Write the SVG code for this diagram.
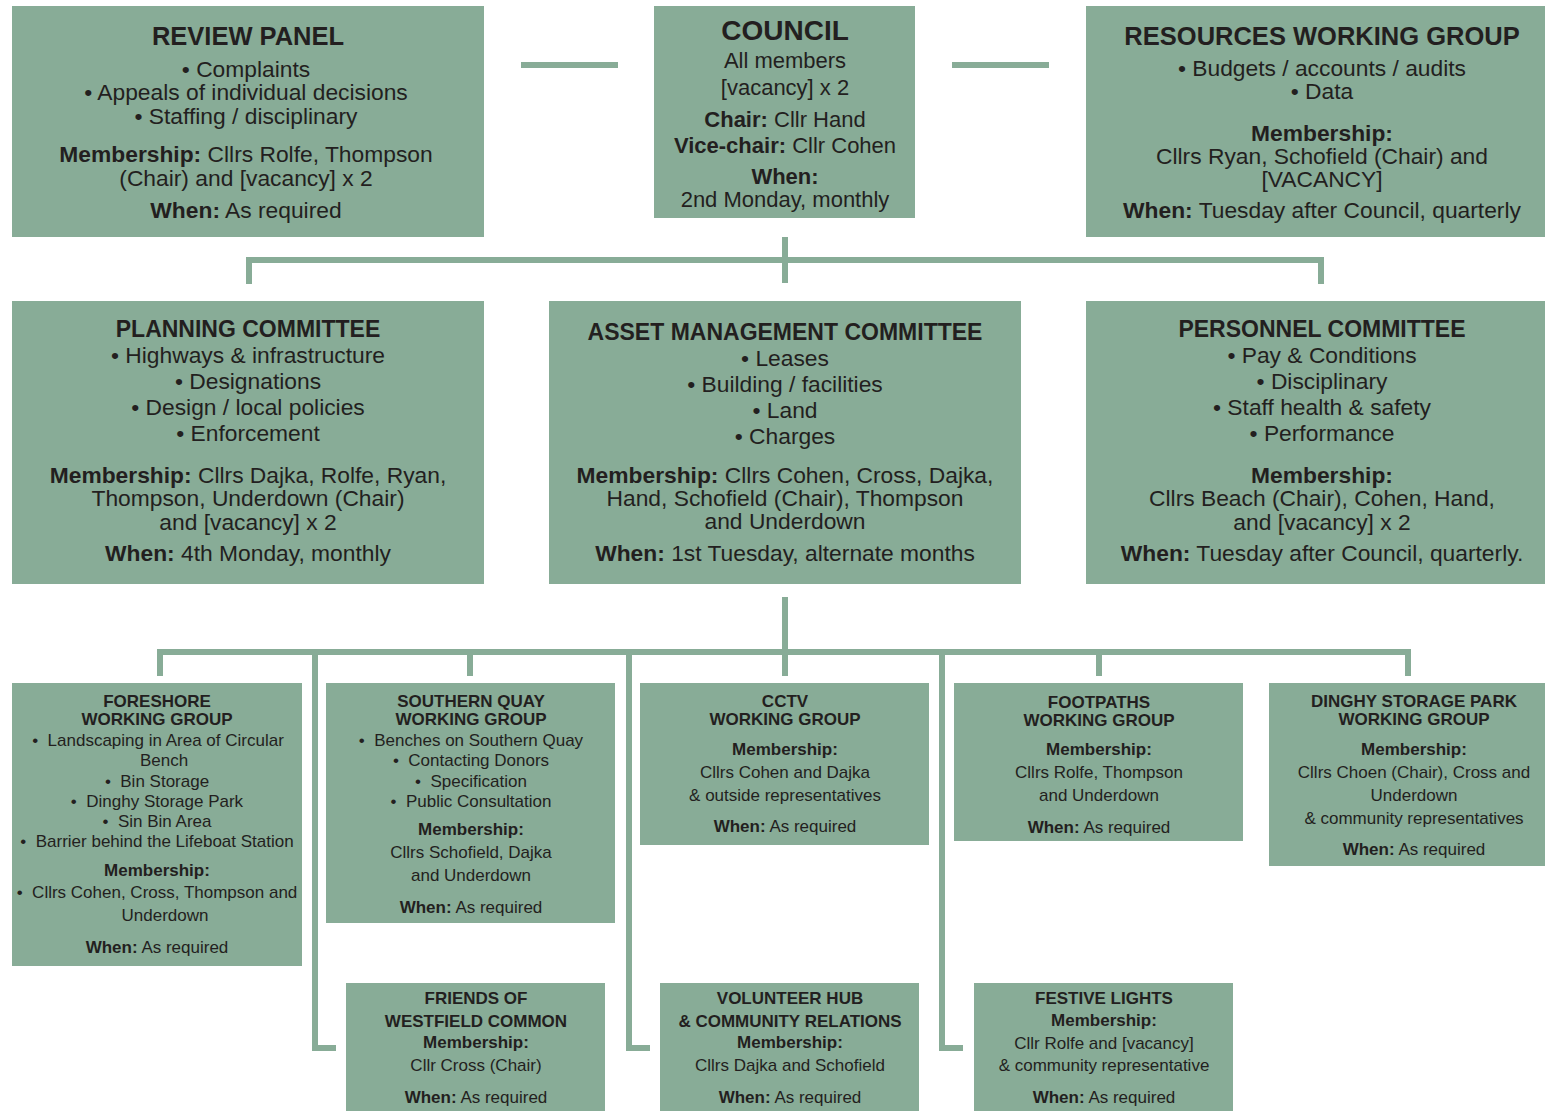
<svg xmlns="http://www.w3.org/2000/svg" width="1545" height="1111" viewBox="0 0 1545 1111">
<style>
.box{fill:#88ac97}
.c{stroke:#88ac97;stroke-width:6;fill:none}
text{font-family:"Liberation Sans",Arial,sans-serif;fill:#231f20;text-anchor:middle}
.h1{font-size:25.5px;font-weight:bold}
.h0{font-size:28px;font-weight:bold}
.h2{font-size:23px;font-weight:bold}
.b1{font-size:22.8px}
.b0{font-size:22px}
.s{font-size:17px}
.sb{font-size:17px;font-weight:bold}
.b{font-weight:bold}
</style>
<rect width="1545" height="1111" fill="#ffffff"/>
<g id="connectors">
<path class="c" d="M521,65 H618"/>
<path class="c" d="M952,65 H1049"/>
<path class="c" d="M785,237 V283"/>
<path class="c" d="M249,284 V260 H1321 V284"/>
<path class="c" d="M785,597 V676"/>
<path class="c" d="M160,676 V652 H1408 V676"/>
<path class="c" d="M470,652 V676"/>
<path class="c" d="M1099,652 V676"/>
<path class="c" d="M315,652 V1048 H336"/>
<path class="c" d="M629,652 V1048 H650"/>
<path class="c" d="M942,652 V1048 H963"/>
</g>
<g id="review-panel">
<rect class="box" x="12" y="6" width="472" height="231"/>
<text class="h1" x="248" y="45">REVIEW PANEL</text>
<text class="b1" x="246" y="77">• Complaints</text>
<text class="b1" x="246" y="100">• Appeals of individual decisions</text>
<text class="b1" x="246" y="124">• Staffing / disciplinary</text>
<text class="b1" x="246" y="162"><tspan class="b">Membership:</tspan> Cllrs Rolfe, Thompson</text>
<text class="b1" x="246" y="186">(Chair) and [vacancy] x 2</text>
<text class="b1" x="246" y="218"><tspan class="b">When:</tspan> As required</text>
</g>
<g id="council">
<rect class="box" x="654" y="6" width="261" height="212"/>
<text class="h0" x="785" y="40">COUNCIL</text>
<text class="b0" x="785" y="68">All members</text>
<text class="b0" x="785" y="95">[vacancy] x 2</text>
<text class="b0" x="785" y="127"><tspan class="b">Chair:</tspan> Cllr Hand</text>
<text class="b0" x="785" y="153"><tspan class="b">Vice-chair:</tspan> Cllr Cohen</text>
<text class="b0 b" x="785" y="184">When:</text>
<text class="b0" x="785" y="207">2nd Monday, monthly</text>
</g>
<g id="resources-working-group">
<rect class="box" x="1086" y="6" width="459" height="231"/>
<text class="h1" x="1322" y="45">RESOURCES WORKING GROUP</text>
<text class="b1" x="1322" y="76">• Budgets / accounts / audits</text>
<text class="b1" x="1322" y="99">• Data</text>
<text class="b1 b" x="1322" y="141">Membership:</text>
<text class="b1" x="1322" y="164">Cllrs Ryan, Schofield (Chair) and</text>
<text class="b1" x="1322" y="187">[VACANCY]</text>
<text class="b1" x="1322" y="218"><tspan class="b">When:</tspan> Tuesday after Council, quarterly</text>
</g>
<g id="planning-committee">
<rect class="box" x="12" y="301" width="472" height="283"/>
<text class="h2" x="248" y="337">PLANNING COMMITTEE</text>
<text class="b1" x="248" y="363">• Highways &amp; infrastructure</text>
<text class="b1" x="248" y="389">• Designations</text>
<text class="b1" x="248" y="415">• Design / local policies</text>
<text class="b1" x="248" y="441">• Enforcement</text>
<text class="b1" x="248" y="483"><tspan class="b">Membership:</tspan> Cllrs Dajka, Rolfe, Ryan,</text>
<text class="b1" x="248" y="506">Thompson, Underdown (Chair)</text>
<text class="b1" x="248" y="530">and [vacancy] x 2</text>
<text class="b1" x="248" y="561"><tspan class="b">When:</tspan> 4th Monday, monthly</text>
</g>
<g id="asset-management-committee">
<rect class="box" x="549" y="301" width="472" height="283"/>
<text class="h2" x="785" y="340">ASSET MANAGEMENT COMMITTEE</text>
<text class="b1" x="785" y="366">• Leases</text>
<text class="b1" x="785" y="392">• Building / facilities</text>
<text class="b1" x="785" y="418">• Land</text>
<text class="b1" x="785" y="444">• Charges</text>
<text class="b1" x="785" y="483"><tspan class="b">Membership:</tspan> Cllrs Cohen, Cross, Dajka,</text>
<text class="b1" x="785" y="506">Hand, Schofield (Chair), Thompson</text>
<text class="b1" x="785" y="529">and Underdown</text>
<text class="b1" x="785" y="561"><tspan class="b">When:</tspan> 1st Tuesday, alternate months</text>
</g>
<g id="personnel-committee">
<rect class="box" x="1086" y="301" width="459" height="283"/>
<text class="h2" x="1322" y="337">PERSONNEL COMMITTEE</text>
<text class="b1" x="1322" y="363">• Pay &amp; Conditions</text>
<text class="b1" x="1322" y="389">• Disciplinary</text>
<text class="b1" x="1322" y="415">• Staff health &amp; safety</text>
<text class="b1" x="1322" y="441">• Performance</text>
<text class="b1 b" x="1322" y="483">Membership:</text>
<text class="b1" x="1322" y="506">Cllrs Beach (Chair), Cohen, Hand,</text>
<text class="b1" x="1322" y="530">and [vacancy] x 2</text>
<text class="b1" x="1322" y="561"><tspan class="b">When:</tspan> Tuesday after Council, quarterly.</text>
</g>
<g id="foreshore-working-group">
<rect class="box" x="12" y="683" width="290" height="283"/>
<text class="sb" x="157" y="707">FORESHORE</text>
<text class="sb" x="157" y="725">WORKING GROUP</text>
<text class="s" x="158" y="746">•&#160;&#160;Landscaping in Area of Circular</text>
<text class="s" x="164" y="766">Bench</text>
<text class="s" x="157" y="787">•&#160;&#160;Bin Storage</text>
<text class="s" x="157" y="807">•&#160;&#160;Dinghy Storage Park</text>
<text class="s" x="157" y="827">•&#160;&#160;Sin Bin Area</text>
<text class="s" x="157" y="847">•&#160;&#160;Barrier behind the Lifeboat Station</text>
<text class="sb" x="157" y="876">Membership:</text>
<text class="s" x="157" y="898">•&#160;&#160;Cllrs Cohen, Cross, Thompson and</text>
<text class="s" x="165" y="921">Underdown</text>
<text class="s" x="157" y="953"><tspan class="b">When:</tspan> As required</text>
</g>
<g id="southern-quay-working-group">
<rect class="box" x="326" y="683" width="289" height="240"/>
<text class="sb" x="471" y="707">SOUTHERN QUAY</text>
<text class="sb" x="471" y="725">WORKING GROUP</text>
<text class="s" x="471" y="746">•&#160;&#160;Benches on Southern Quay</text>
<text class="s" x="471" y="766">•&#160;&#160;Contacting Donors</text>
<text class="s" x="471" y="787">•&#160;&#160;Specification</text>
<text class="s" x="471" y="807">•&#160;&#160;Public Consultation</text>
<text class="sb" x="471" y="835">Membership:</text>
<text class="s" x="471" y="858">Cllrs Schofield, Dajka</text>
<text class="s" x="471" y="881">and Underdown</text>
<text class="s" x="471" y="913"><tspan class="b">When:</tspan> As required</text>
</g>
<g id="cctv-working-group">
<rect class="box" x="640" y="683" width="289" height="162"/>
<text class="sb" x="785" y="707">CCTV</text>
<text class="sb" x="785" y="725">WORKING GROUP</text>
<text class="sb" x="785" y="755">Membership:</text>
<text class="s" x="785" y="778">Cllrs Cohen and Dajka</text>
<text class="s" x="785" y="801">&amp; outside representatives</text>
<text class="s" x="785" y="832"><tspan class="b">When:</tspan> As required</text>
</g>
<g id="footpaths-working-group">
<rect class="box" x="954" y="683" width="289" height="158"/>
<text class="sb" x="1099" y="708">FOOTPATHS</text>
<text class="sb" x="1099" y="726">WORKING GROUP</text>
<text class="sb" x="1099" y="755">Membership:</text>
<text class="s" x="1099" y="778">Cllrs Rolfe, Thompson</text>
<text class="s" x="1099" y="801">and Underdown</text>
<text class="s" x="1099" y="833"><tspan class="b">When:</tspan> As required</text>
</g>
<g id="dinghy-storage-park-working-group">
<rect class="box" x="1269" y="683" width="276" height="183"/>
<text class="sb" x="1414" y="707">DINGHY STORAGE PARK</text>
<text class="sb" x="1414" y="725">WORKING GROUP</text>
<text class="sb" x="1414" y="755">Membership:</text>
<text class="s" x="1414" y="778">Cllrs Choen (Chair), Cross and</text>
<text class="s" x="1414" y="801">Underdown</text>
<text class="s" x="1414" y="824">&amp; community representatives</text>
<text class="s" x="1414" y="855"><tspan class="b">When:</tspan> As required</text>
</g>
<g id="friends-of-westfield-common">
<rect class="box" x="346" y="983" width="259" height="128"/>
<text class="sb" x="476" y="1004">FRIENDS OF</text>
<text class="sb" x="476" y="1027">WESTFIELD COMMON</text>
<text class="sb" x="476" y="1048">Membership:</text>
<text class="s" x="476" y="1071">Cllr Cross (Chair)</text>
<text class="s" x="476" y="1103"><tspan class="b">When:</tspan> As required</text>
</g>
<g id="volunteer-hub">
<rect class="box" x="660" y="983" width="259" height="128"/>
<text class="sb" x="790" y="1004">VOLUNTEER HUB</text>
<text class="sb" x="790" y="1027">&amp; COMMUNITY RELATIONS</text>
<text class="sb" x="790" y="1048">Membership:</text>
<text class="s" x="790" y="1071">Cllrs Dajka and Schofield</text>
<text class="s" x="790" y="1103"><tspan class="b">When:</tspan> As required</text>
</g>
<g id="festive-lights">
<rect class="box" x="974" y="983" width="259" height="128"/>
<text class="sb" x="1104" y="1004">FESTIVE LIGHTS</text>
<text class="sb" x="1104" y="1026">Membership:</text>
<text class="s" x="1104" y="1049">Cllr Rolfe and [vacancy]</text>
<text class="s" x="1104" y="1071">&amp; community representative</text>
<text class="s" x="1104" y="1103"><tspan class="b">When:</tspan> As required</text>
</g>
</svg>
